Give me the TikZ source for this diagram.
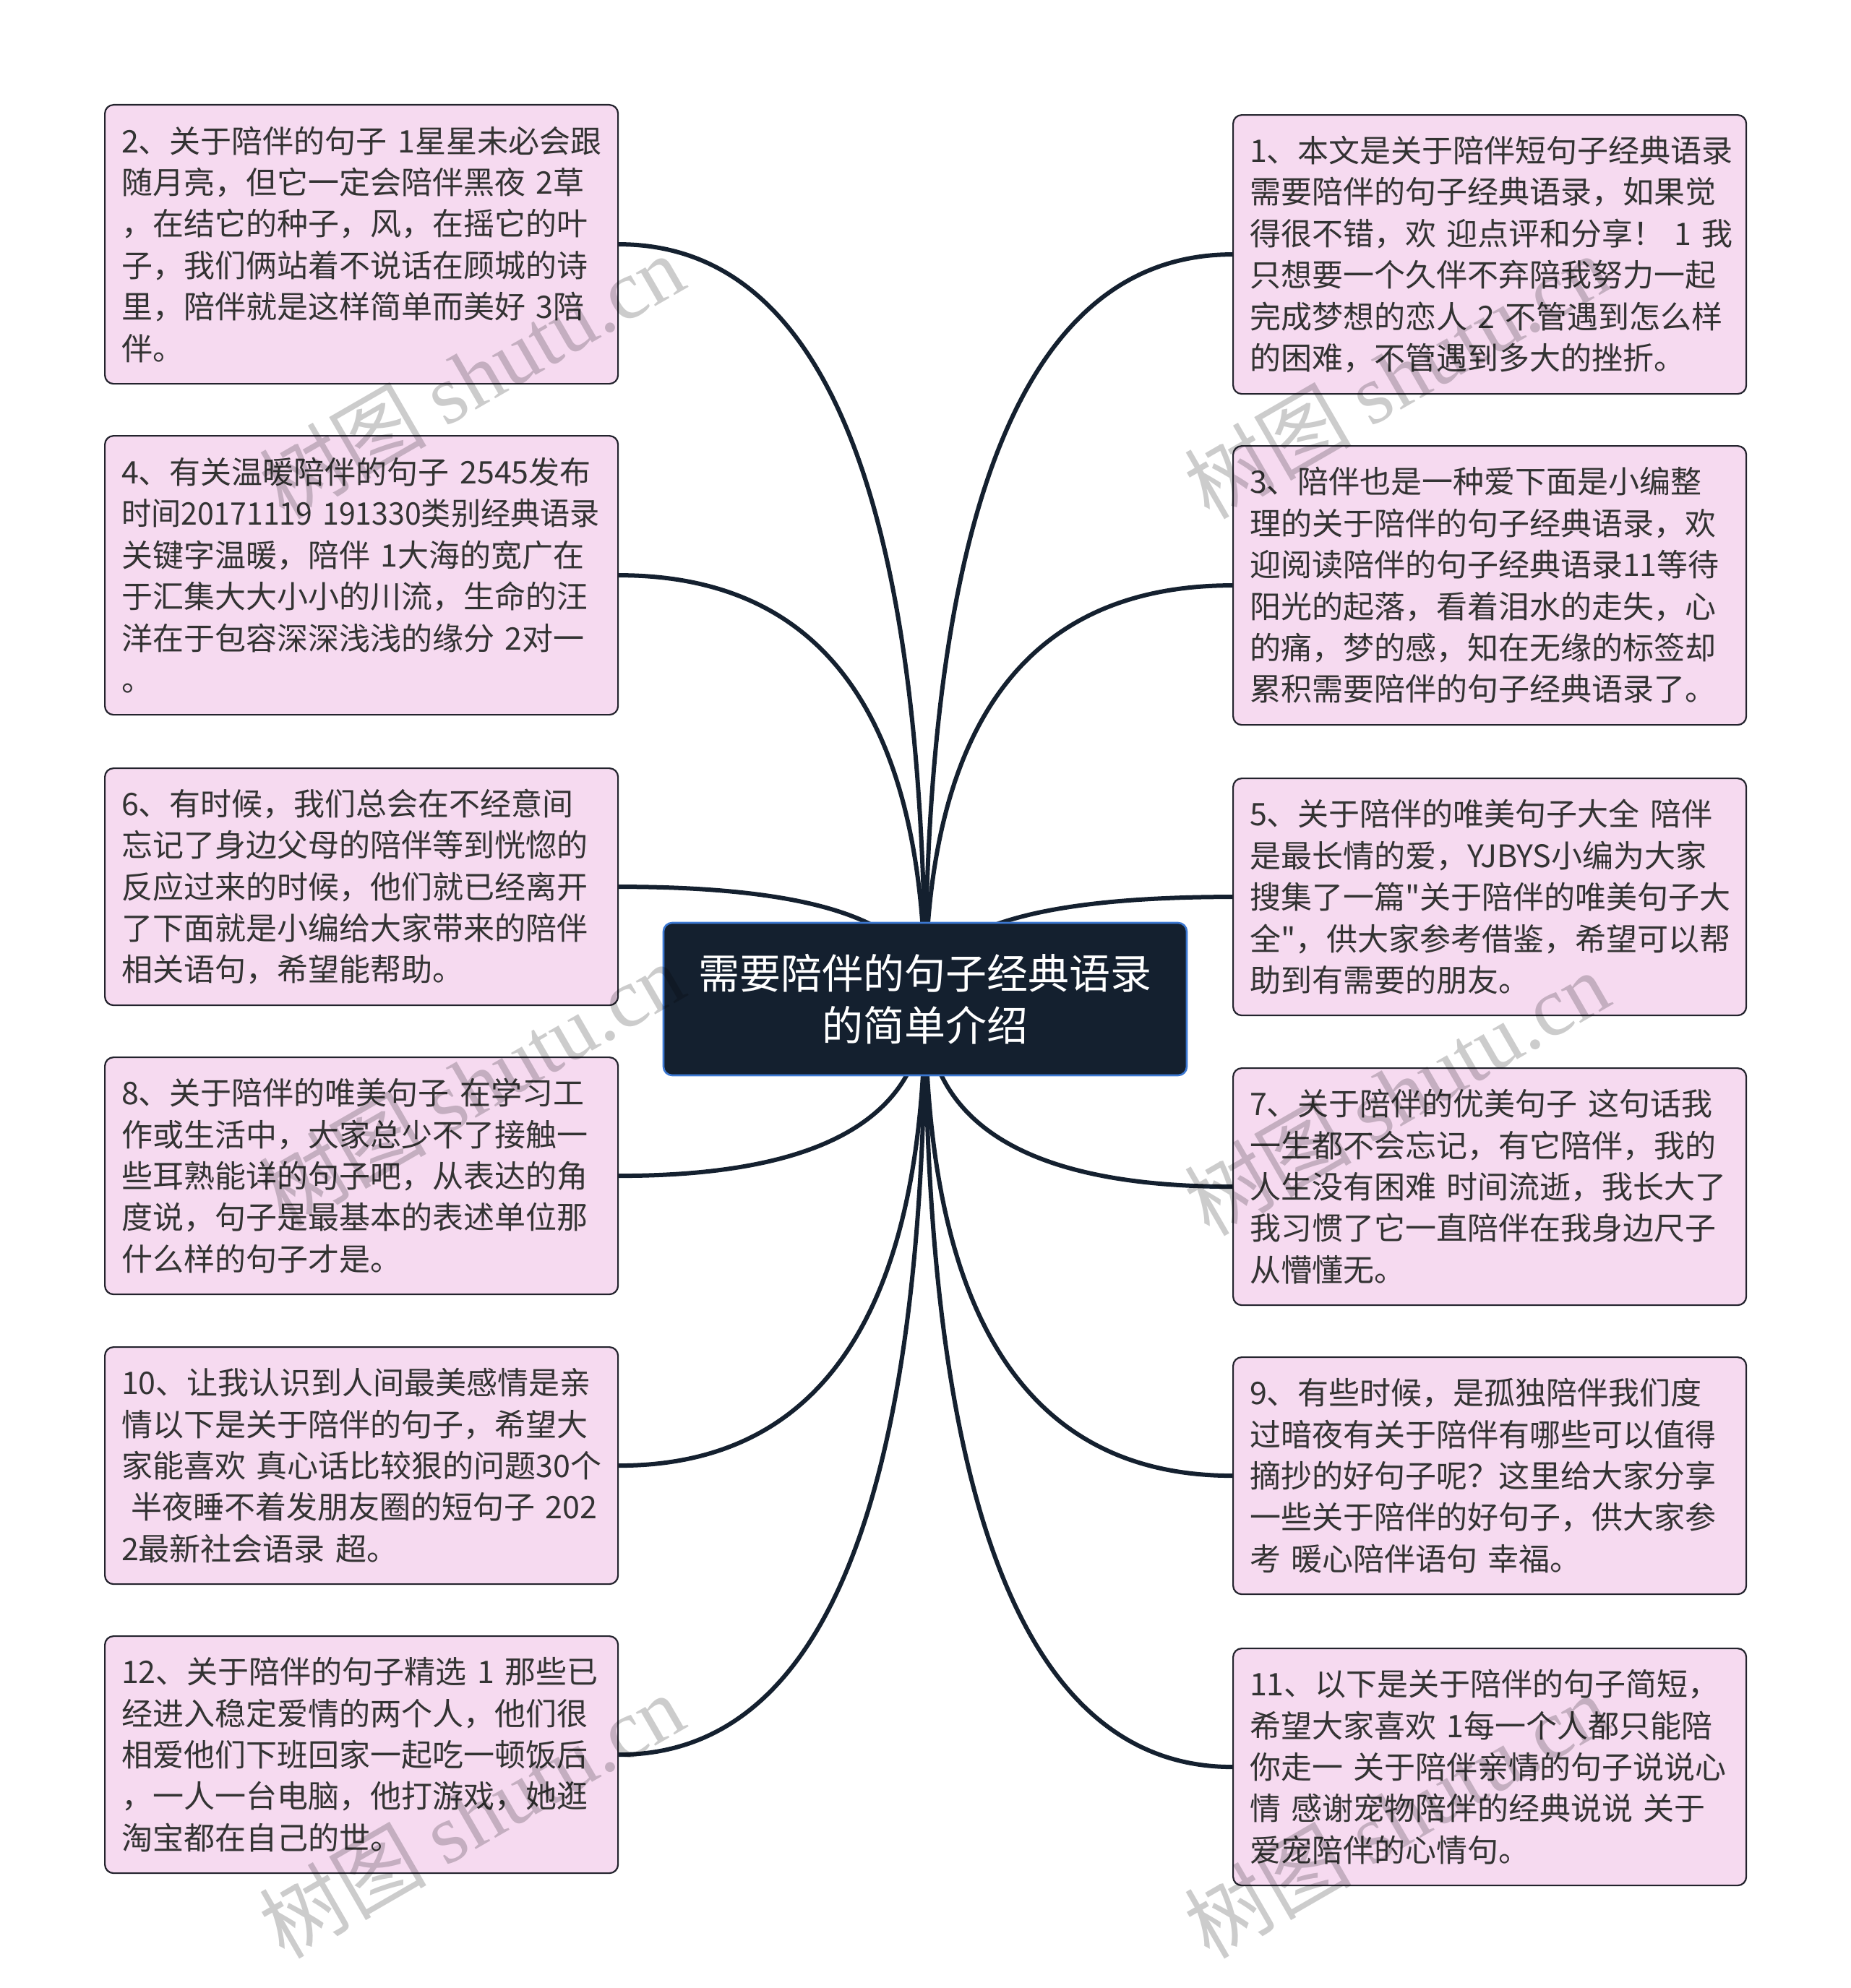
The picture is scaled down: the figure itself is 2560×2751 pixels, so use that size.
\documentclass[tikz,border=0pt]{standalone}
\usepackage{graphicx}
\usepackage{fontspec}
\setmainfont{Noto Sans CJK SC}
\newfontfamily\leaffont{Noto Sans CJK SC}
\newfontfamily\wmlatin{Liberation Serif}
\usetikzlibrary{calc,backgrounds}
\definecolor{leaffill}{RGB}{246,218,240}
\definecolor{leafdraw}{RGB}{35,35,45}
\definecolor{rootfill}{RGB}{20,32,47}
\definecolor{rootdraw}{RGB}{60,120,210}
\definecolor{conncol}{RGB}{20,32,47}
\definecolor{txt}{RGB}{51,51,51}
\newcommand\LN[1]{\mbox{#1}}
\tikzset{
  leaf/.style={draw=leafdraw, line width=1.1pt, fill=leaffill, rounded corners=6pt,
    text=txt, text width=332pt, inner xsep=11.5pt, inner ysep=0pt, align=left,
    minimum width=355pt, anchor=north west,
    font=\leaffont\fontsize{21.5pt}{28.7pt}\selectfont},
  six/.style={minimum height=193pt},
  five/.style={minimum height=164pt},
  root/.style={draw=rootdraw, line width=1.3pt, fill=rootfill, rounded corners=6pt,
    text=white, align=center, minimum width=362pt, minimum height=105.5pt,
    font=\fontsize{28.5pt}{36pt}\selectfont},
  conn/.style={draw=conncol, line width=3pt},
  wm/.style={text=black, text opacity=0.2, rotate=30,
    font=\fontsize{58pt}{58pt}\selectfont}
}
\begin{document}
\begin{tikzpicture}[x=0.5pt,y=-0.5pt]
\useasboundingbox (0,0) rectangle (2560,2751);

% root
\node[root] (c) at (1280,1382.5) {需要陪伴的句子经典语录\\的简单介绍};

% left column
\node[leaf,six] (b2) at (144,144) {\LN{2、关于陪伴的句子 1星星未必会跟}\\\LN{随月亮，但它一定会陪伴黑夜 2草}\\\LN{，在结它的种子，风，在摇它的叶}\\\LN{子，我们俩站着不说话在顾城的诗}\\\LN{里，陪伴就是这样简单而美好 3陪}\\\LN{伴。}};
\node[leaf,six] (b4) at (144,602) {\LN{4、有关温暖陪伴的句子 2545发布}\\\LN{\scalebox{0.955}[1]{时间20171119 191330类别经典语录}}\\\LN{关键字温暖，陪伴 1大海的宽广在}\\\LN{于汇集大大小小的川流，生命的汪}\\\LN{洋在于包容深深浅浅的缘分 2对一}\\\LN{。}};
\node[leaf,five] (b6) at (144,1062) {\LN{6、有时候，我们总会在不经意间}\\\LN{忘记了身边父母的陪伴等到恍惚的}\\\LN{反应过来的时候，他们就已经离开}\\\LN{了下面就是小编给大家带来的陪伴}\\\LN{相关语句，希望能帮助。}};
\node[leaf,five] (b8) at (144,1462) {\LN{8、关于陪伴的唯美句子 在学习工}\\\LN{作或生活中，大家总少不了接触一}\\\LN{些耳熟能详的句子吧，从表达的角}\\\LN{度说，句子是最基本的表述单位那}\\\LN{什么样的句子才是。}};
\node[leaf,five] (b10) at (144,1863) {\LN{10、让我认识到人间最美感情是亲}\\\LN{情以下是关于陪伴的句子，希望大}\\\LN{家能喜欢 真心话比较狠的问题30个}\\\LN{\hspace*{0.3em}半夜睡不着发朋友圈的短句子 202}\\\LN{2最新社会语录 超。}};
\node[leaf,five] (b12) at (144,2263) {\LN{12、关于陪伴的句子精选 1 那些已}\\\LN{经进入稳定爱情的两个人，他们很}\\\LN{相爱他们下班回家一起吃一顿饭后}\\\LN{，一人一台电脑，他打游戏，她逛}\\\LN{淘宝都在自己的世。}};

% right column
\node[leaf,six] (b1) at (1705,158) {\LN{1、本文是关于陪伴短句子经典语录}\\\LN{需要陪伴的句子经典语录，如果觉}\\\LN{得很不错，欢 迎点评和分享！ 1 我}\\\LN{只想要一个久伴不弃陪我努力一起}\\\LN{完成梦想的恋人 2 不管遇到怎么样}\\\LN{的困难，不管遇到多大的挫折。}};
\node[leaf,six] (b3) at (1705,616) {\LN{3、陪伴也是一种爱下面是小编整}\\\LN{理的关于陪伴的句子经典语录，欢}\\\LN{迎阅读陪伴的句子经典语录11等待}\\\LN{阳光的起落，看着泪水的走失，心}\\\LN{的痛，梦的感，知在无缘的标签却}\\\LN{累积需要陪伴的句子经典语录了。}};
\node[leaf,five] (b5) at (1705,1076) {\LN{5、关于陪伴的唯美句子大全 陪伴}\\\LN{是最长情的爱，YJBYS小编为大家}\\\LN{搜集了一篇"关于陪伴的唯美句子大}\\\LN{全"，供大家参考借鉴，希望可以帮}\\\LN{助到有需要的朋友。}};
\node[leaf,five] (b7) at (1705,1477) {\LN{7、关于陪伴的优美句子 这句话我}\\\LN{一生都不会忘记，有它陪伴，我的}\\\LN{人生没有困难 时间流逝，我长大了}\\\LN{我习惯了它一直陪伴在我身边尺子}\\\LN{从懵懂无。}};
\node[leaf,five] (b9) at (1705,1877) {\LN{9、有些时候，是孤独陪伴我们度}\\\LN{过暗夜有关于陪伴有哪些可以值得}\\\LN{摘抄的好句子呢？这里给大家分享}\\\LN{一些关于陪伴的好句子，供大家参}\\\LN{考 暖心陪伴语句 幸福。}};
\node[leaf,five] (b11) at (1705,2280) {\LN{11、以下是关于陪伴的句子简短，}\\\LN{希望大家喜欢 1每一个人都只能陪}\\\LN{你走一 关于陪伴亲情的句子说说心}\\\LN{情 感谢宠物陪伴的经典说说 关于}\\\LN{爱宠陪伴的心情句。}};

% connectors
\begin{scope}[on background layer]
\fill[white] (0,0) rectangle (2560,2751);
\foreach \b in {b2,b4,b6,b8,b10,b12}{
  \path (c.center |- \b.east) coordinate (q);
  \draw[conn] (c.center) .. controls ($(c.center)!0.6667!(q)$) and ($(\b.east)!0.6667!(q)$) .. (\b.east);
}
\foreach \b in {b1,b3,b5,b7,b9,b11}{
  \path (c.center |- \b.west) coordinate (q);
  \draw[conn] (c.center) .. controls ($(c.center)!0.6667!(q)$) and ($(\b.west)!0.6667!(q)$) .. (\b.west);
}
\end{scope}

% watermarks
\node[wm] (w1) at (652,520) {树图 {\wmlatin shutu.cn}};
\node[wm] (w2) at (1932,520) {树图 {\wmlatin shutu.cn}};
\node[wm] (w3) at (652,1500) {树图 {\wmlatin shutu.cn}};
\node[wm] (w4) at (1932,1512) {树图 {\wmlatin shutu.cn}};
\node[wm] (w5) at (652,2512) {树图 {\wmlatin shutu.cn}};
\node[wm] (w6) at (1932,2512) {树图 {\wmlatin shutu.cn}};
\end{tikzpicture}
\end{document}
